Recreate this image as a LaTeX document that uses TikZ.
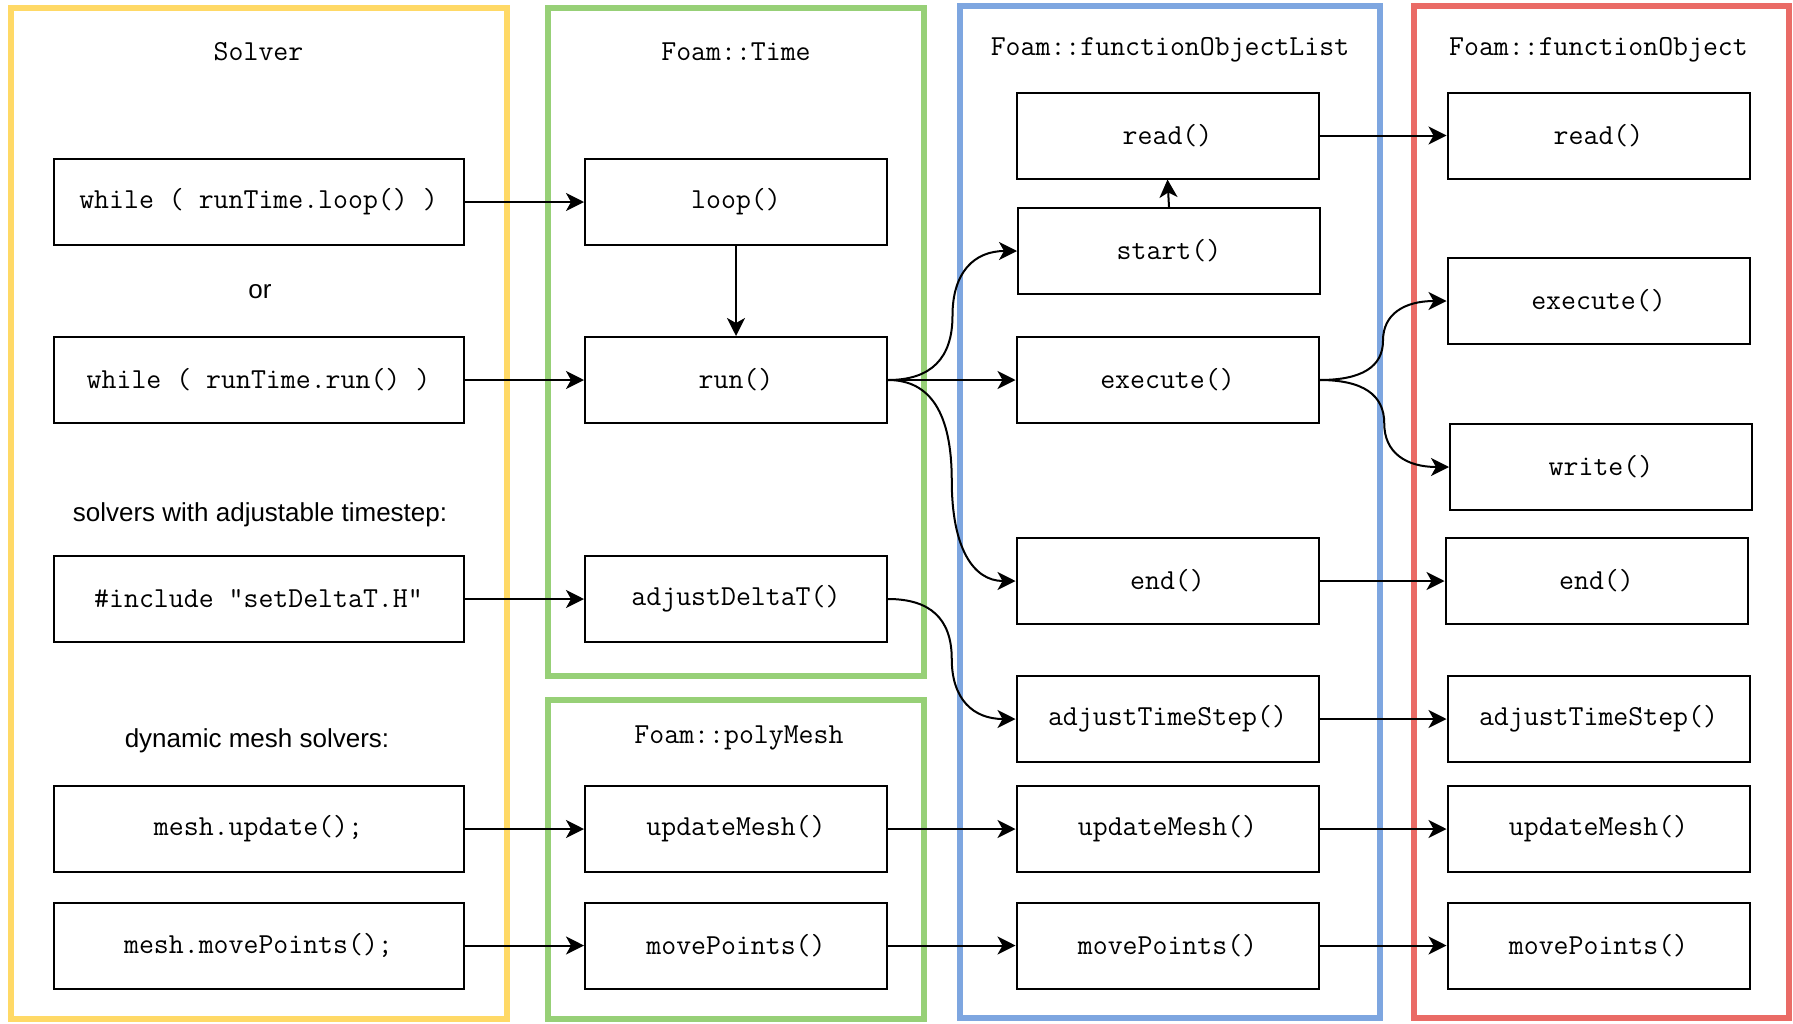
\documentclass[tikz,border=0pt]{standalone}
\usepackage{fontspec}
\setmainfont{Liberation Sans}
\usetikzlibrary{arrows.meta,calc}

\definecolor{solveryellow}{HTML}{FFD966}
\definecolor{timegreen}{HTML}{97D077}
\definecolor{listblue}{HTML}{7EA6E0}
\definecolor{objred}{HTML}{EA6B66}

\begin{document}
\begin{tikzpicture}[x=0.5pt, y=-0.5pt,
  func/.style={draw, line width=1pt, minimum width=151pt, minimum height=43pt,
    inner sep=0pt, font=\ttfamily\fontsize{14.5}{16}\selectfont},
  call/.style={func, minimum width=205pt},
  head/.style={font=\ttfamily\fontsize{14.5}{16}\selectfont},
  note/.style={font=\fontsize{13}{15}\selectfont},
  frame/.style={line width=3pt},
  arr/.style={-{Stealth[length=9pt,width=9pt,inset=2.5pt]}, line width=1pt},
  elbow/.style={to path={let \p1=(\tikztostart), \p2=(\tikztotarget) in
    .. controls ({(2*\x1+\x2)/3},\y1) and ({(\x1+\x2)/2},{(5*\y1+\y2)/6})
    .. ({(\x1+\x2)/2},{(\y1+\y2)/2})
    .. controls ({(\x1+\x2)/2},{(\y1+5*\y2)/6}) and ({(\x1+2*\x2)/3},\y2)
    .. (\tikztotarget) \tikztonodes}}]
\def \xsol   {258.5};
\def \xtime  {736};
\def \xlist  {1167.5};
\def \xobj   {1598.5};

\def \yread  {135.5};
\def \yloop  {202};
\def \ystart {251};
\def \yexec  {301};
\def \yrun   {380};
\def \ywrite {467};
\def \yend   {581};
\def \ydelta {599};
\def \ystep  {719};
\def \yupd   {829};
\def \ymove  {945.5};

\useasboundingbox (0,0) rectangle (1793,1023);

% class frames
\draw[frame, solveryellow] (10.5,8) rectangle (507,1019);
\draw[frame, timegreen] (548,8) rectangle (924,676);
\draw[frame, timegreen] (548,699.5) rectangle (924,1019);
\draw[frame, listblue] (960,5.5) rectangle (1380,1018);
\draw[frame, objred] (1413.5,5.5) rectangle (1789,1018);

\node[head] (title_sol)  at (\xsol, 52)  {Solver};
\node[head] (title_time) at (\xtime, 52) {Foam::Time};
\node[head] (title_mesh) at (739, 738)   {Foam::polyMesh};
\node[head] (title_list) at (1170, 50)   {Foam::functionObjectList};
\node[head] (title_obj)  at (\xobj, 50)  {Foam::functionObject};

% solver
\node[call] (sol_loop)  at (\xsol, \yloop)  {while ( runTime.loop() )};
\node[note] (or_text)   at (260, 292)       {or};
\node[call] (sol_run)   at (\xsol, \yrun)   {while ( runTime.run() )};
\node[note] (adj_text)  at (260, 515)       {solvers with adjustable timestep:};
\node[call] (sol_delta) at (\xsol, \ydelta) {\#include "setDeltaT.H"};
\node[note] (dyn_text)  at (257, 741)       {dynamic mesh solvers:};
\node[call] (sol_upd)   at (\xsol, \yupd)   {mesh.update();};
\node[call] (sol_move)  at (\xsol, \ymove)  {mesh.movePoints();};

% Time and polyMesh
\node[func] (t_loop)  at (\xtime, \yloop)  {loop()};
\node[func] (t_run)   at (\xtime, \yrun)   {run()};
\node[func] (t_delta) at (\xtime, \ydelta) {adjustDeltaT()};
\node[func] (m_upd)   at (\xtime, \yupd)   {updateMesh()};
\node[func] (m_move)  at (\xtime, \ymove)  {movePoints()};

% functionObjectList
\node[func] (l_read)  at (\xlist, \yread)  {read()};
\node[func] (l_start) at (1169, \ystart)   {start()};
\node[func] (l_exec)  at (\xlist, \yrun)   {execute()};
\node[func] (l_end)   at (\xlist, \yend)   {end()};
\node[func] (l_step)  at (\xlist, \ystep)  {adjustTimeStep()};
\node[func] (l_upd)   at (\xlist, \yupd)   {updateMesh()};
\node[func] (l_move)  at (\xlist, \ymove)  {movePoints()};

% functionObject
\node[func] (o_read)  at (\xobj, \yread)   {read()};
\node[func] (o_exec)  at (\xobj, \yexec)   {execute()};
\node[func] (o_write) at (1601, \ywrite)   {write()};
\node[func] (o_end)   at (1596.5, \yend)   {end()};
\node[func] (o_step)  at (\xobj, \ystep)   {adjustTimeStep()};
\node[func] (o_upd)   at (\xobj, \yupd)    {updateMesh()};
\node[func] (o_move)  at (\xobj, \ymove)   {movePoints()};

% calls
\draw[arr] (sol_loop) -- (t_loop);
\draw[arr] (sol_run) -- (t_run);
\draw[arr] (sol_delta) -- (t_delta);
\draw[arr] (sol_upd) -- (m_upd);
\draw[arr] (sol_move) -- (m_move);
\draw[arr] (t_loop) -- (t_run);

\draw[arr] (t_run.east) to[elbow] (l_start.west);
\draw[arr] (t_run) -- (l_exec);
\draw[arr] (t_run.east) to[elbow] (l_end.west);
\draw[arr] (t_delta.east) to[elbow] (l_step.west);
\draw[arr] (m_upd) -- (l_upd);
\draw[arr] (m_move) -- (l_move);

\draw[arr] (l_start.north) -- (l_read.south);
\draw[arr] (l_read) -- (o_read);
\draw[arr] (l_exec.east) to[elbow] (o_exec.west);
\draw[arr] (l_exec.east) to[elbow] (o_write.west);
\draw[arr] (l_end) -- (o_end);
\draw[arr] (l_step) -- (o_step);
\draw[arr] (l_upd) -- (o_upd);
\draw[arr] (l_move) -- (o_move);

\end{tikzpicture}
\end{document}
